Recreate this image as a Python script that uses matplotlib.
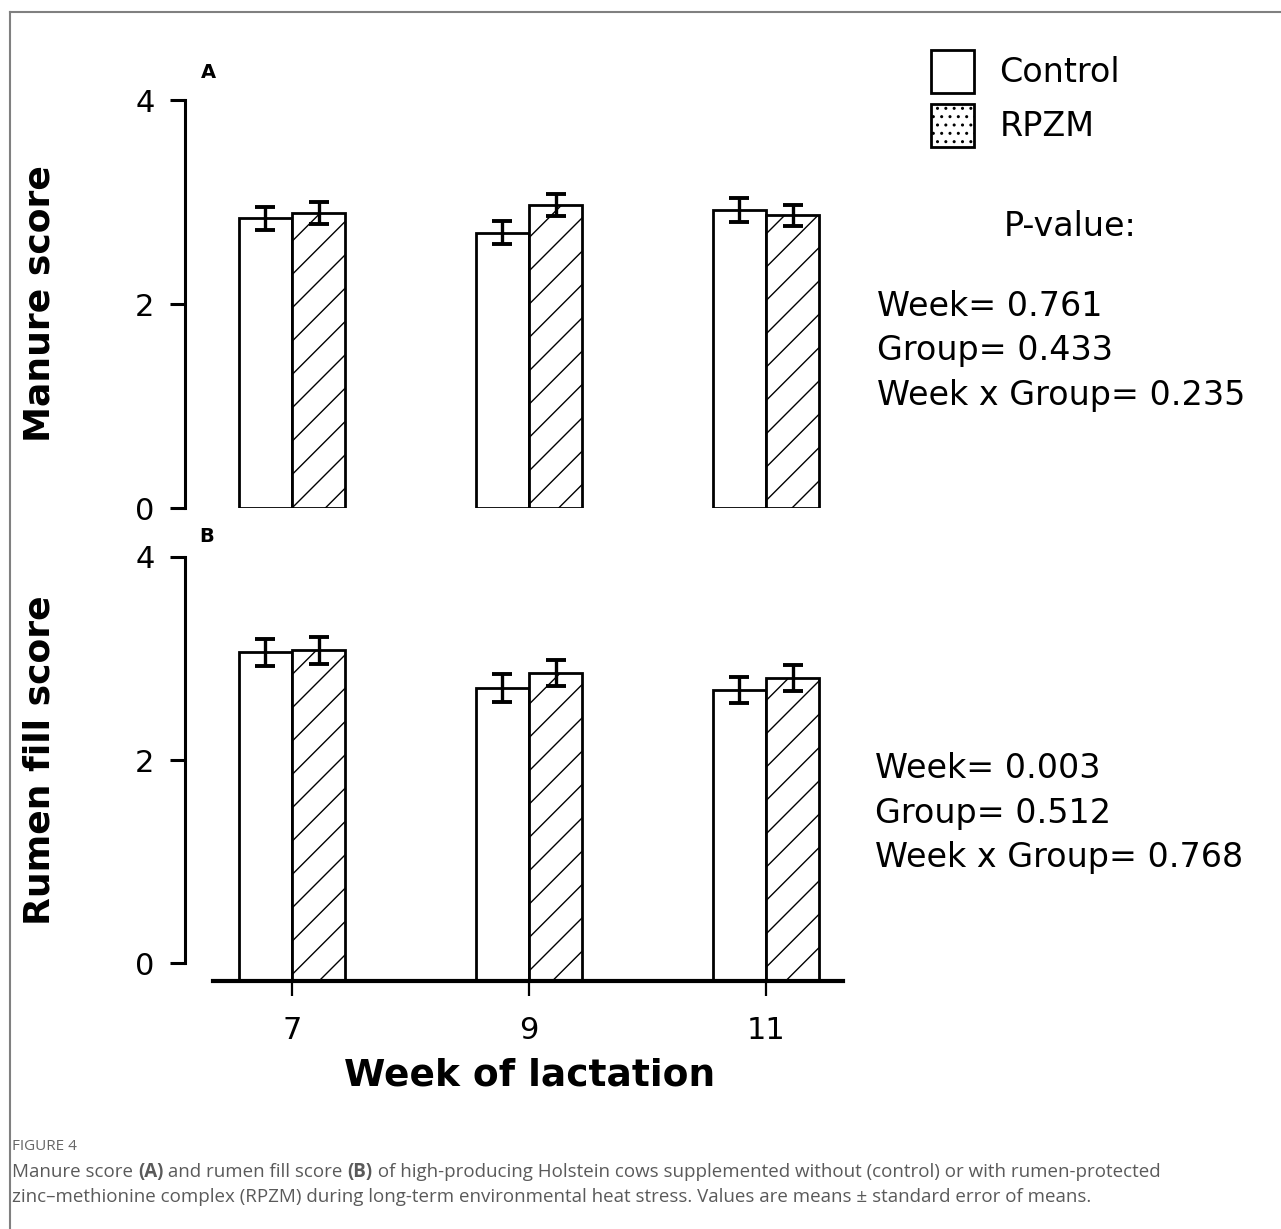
import matplotlib.pyplot as plt
from matplotlib.patches import Patch
from matplotlib.lines import Line2D

# data
weeks = [7, 9, 11]
week_labels = ['7', '9', '11']
groups = ['Control', 'RPZM']

manure_control = [2.84, 2.70, 2.92]
manure_control_se = [0.11, 0.11, 0.115]
manure_rpzm = [2.89, 2.97, 2.87]
manure_rpzm_se = [0.11, 0.11, 0.105]

rumen_control = [3.06, 2.71, 2.69]
rumen_control_se = [0.13, 0.135, 0.13]
rumen_rpzm = [3.08, 2.86, 2.81]
rumen_rpzm_se = [0.13, 0.13, 0.13]

pvals_manure = ['Week= 0.761', 'Group= 0.433', 'Week x Group= 0.235']
pvals_rumen = ['Week= 0.003', 'Group= 0.512', 'Week x Group= 0.768']

plt.rcParams['font.family'] = 'DejaVu Sans'
plt.rcParams['hatch.linewidth'] = 1.0

W, H = 1281, 1229
fig = plt.figure(figsize=(W / 100, H / 100), dpi=100)

def fx(px):
    return px / W

def fy(py):
    return 1 - py / H

bw = 0.45
xlo, xhi = 6.097, 11.65
ax_left, ax_right = 185, 843

def panel(ax, ctrl, ctrl_se, rpzm, rpzm_se, base):
    xc = [w - bw / 2 for w in weeks]
    xr = [w + bw / 2 for w in weeks]
    ax.bar(xc, [v - base for v in ctrl], bw, bottom=base, color='white',
           edgecolor='black', linewidth=2.0, zorder=2)
    ax.bar(xr, [v - base for v in rpzm], bw, bottom=base, color='white',
           edgecolor='black', linewidth=2.0, hatch='/', zorder=2)
    ax.errorbar(xc, ctrl, yerr=ctrl_se, fmt='none', ecolor='black',
                elinewidth=2.4, capsize=7.5, capthick=2.8, zorder=3)
    ax.errorbar(xr, rpzm, yerr=rpzm_se, fmt='none', ecolor='black',
                elinewidth=2.4, capsize=7.5, capthick=2.8, zorder=3)
    ax.set_xlim(xlo, xhi)
    ax.set_ylim(base, 4)
    ax.set_yticks([0, 2, 4])
    ax.set_yticklabels(['0', '2', '4'])
    ax.spines['top'].set_visible(False)
    ax.spines['right'].set_visible(False)
    ax.spines['left'].set_linewidth(2.2)
    ax.spines['left'].set_bounds(0, 4)
    ax.tick_params(axis='y', direction='out', length=11, width=2.2,
                   pad=11, labelsize=22)
    ax.patch.set_alpha(0)

ylab_x = (56 - ax_left) / (ax_right - ax_left)

# panel A
axA = fig.add_axes([fx(ax_left), fy(508), fx(ax_right) - fx(ax_left), fy(100) - fy(508)])
panel(axA, manure_control, manure_control_se, manure_rpzm, manure_rpzm_se, 0)
axA.spines['bottom'].set_visible(False)
axA.set_xticks([])
axA.set_ylabel('Manure score', fontsize=26, fontweight='bold')
axA.yaxis.set_label_coords(ylab_x, 0.5)

# panel B
baseB = -0.177
axB = fig.add_axes([fx(ax_left), fy(981), fx(ax_right) - fx(ax_left), fy(557) - fy(981)])
panel(axB, rumen_control, rumen_control_se, rumen_rpzm, rumen_rpzm_se, baseB)
axB.spines['bottom'].set_linewidth(3.0)
axB.spines['bottom'].set_bounds(6.33, xhi)
axB.set_xticks(weeks)
axB.set_xticklabels(week_labels)
axB.tick_params(axis='x', direction='out', length=11, width=1.6,
                pad=14, labelsize=22)
axB.set_ylabel('Rumen fill score', fontsize=26, fontweight='bold')
axB.yaxis.set_label_coords(ylab_x, (760 - 981) / (557 - 981))
axB.set_xlabel('Week of lactation', fontsize=27, fontweight='bold')
axB.xaxis.set_label_coords((530 - ax_left) / (ax_right - ax_left),
                           (981 - 1075) / (981 - 557))
axB.xaxis.label.set_va('center')

fig.text(fx(208), fy(72), 'A', fontsize=14, fontweight='bold', ha='center', va='center')
fig.text(fx(207), fy(537), 'B', fontsize=14, fontweight='bold', ha='center', va='center')

# legend
handles = [Patch(facecolor='white', edgecolor='black', linewidth=2.0),
           Patch(facecolor='white', edgecolor='black', linewidth=2.0, hatch='..')]
fig.legend(handles, groups, loc='upper left', bbox_to_anchor=(fx(931), fy(50)),
           frameon=False, fontsize=24, handlelength=1.3, handleheight=1.61,
           handletextpad=0.75, labelspacing=0.33, borderpad=0, borderaxespad=0)

# p-values
fig.text(fx(1070), fy(226), 'P-value:', fontsize=24, ha='center', va='center')
for txt, yy in zip(pvals_manure, [307, 351, 395]):
    fig.text(fx(877), fy(yy), txt, fontsize=24, ha='left', va='center')
for txt, yy in zip(pvals_rumen, [768, 814, 858]):
    fig.text(fx(875), fy(yy), txt, fontsize=24, ha='left', va='center')

# caption
cap_color = '#5a5a5a'
fig.text(fx(12), fy(1147), 'FIGURE 4', fontsize=11, color='#666666',
         family='Open Sans', va='center')

renderer = fig.canvas.get_renderer()

def rich_line(x, y, parts):
    for s, wgt in parts:
        t = fig.text(x, y, s, fontsize=13.5, fontweight=wgt, color=cap_color,
                     family='Open Sans', va='center')
        bb = t.get_window_extent(renderer)
        x = x + bb.width / W

rich_line(fx(12), fy(1172), [
    ('Manure score ', 'normal'), ('(A)', 'bold'),
    (' and rumen fill score ', 'normal'), ('(B)', 'bold'),
    (' of high-producing Holstein cows supplemented without (control) or with rumen-protected', 'normal'),
])
rich_line(fx(12), fy(1197), [
    ('zinc\u2013methionine complex (RPZM) during long-term environmental heat stress. '
     'Values are means \u00b1 standard error of means.', 'normal'),
])

# frame of the page
fig.add_artist(Line2D([fx(10), 1], [fy(12), fy(12)], color='#808080', linewidth=1.5))
fig.add_artist(Line2D([fx(10), fx(10)], [0, fy(12)], color='#808080', linewidth=1.5))

fig.savefig('out.png', dpi=100)
